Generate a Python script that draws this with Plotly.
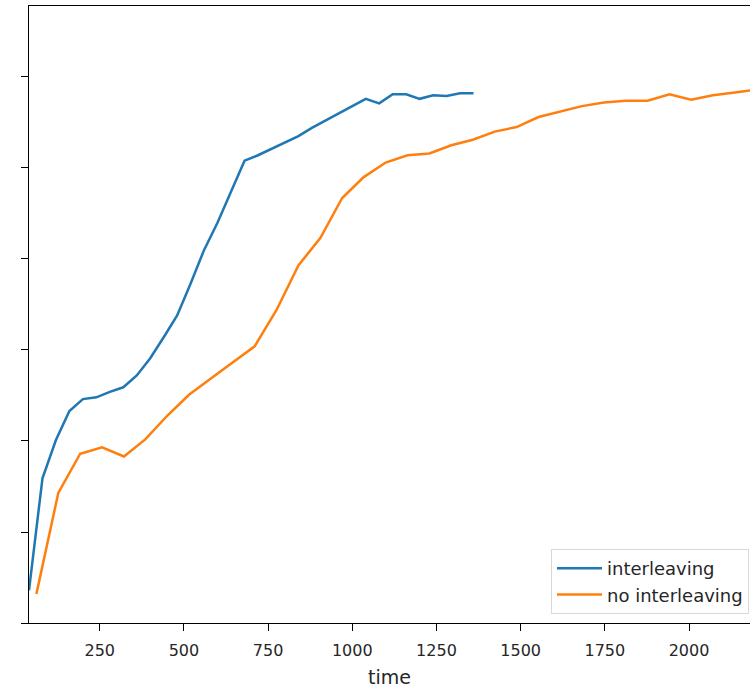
import plotly.graph_objects as go

# interleaving series
t_inter = [40, 80, 120, 160, 200, 240, 280, 320, 360, 400, 440, 480, 520, 560, 600,
           640, 680, 720, 760, 800, 840, 880, 920, 960, 1000, 1040, 1080, 1120, 1160,
           1200, 1240, 1280, 1320, 1360]
v_inter = [0.36, 1.59, 2.01, 2.33, 2.46, 2.48, 2.54, 2.59, 2.72, 2.91, 3.14, 3.38, 3.73,
           4.10, 4.40, 4.75, 5.08, 5.14, 5.21, 5.28, 5.35, 5.44, 5.52, 5.60, 5.68, 5.76,
           5.71, 5.81, 5.81, 5.76, 5.80, 5.79, 5.82, 5.82]

# no interleaving series
t_nointer = [62, 127, 192, 257, 322, 386, 451, 516, 581, 646, 710, 775, 840, 905, 970,
             1034, 1099, 1164, 1229, 1294, 1358, 1423, 1488, 1553, 1618, 1682, 1747,
             1812, 1877, 1942, 2006, 2071, 2136, 2201]
v_nointer = [0.32, 1.43, 1.86, 1.93, 1.83, 2.02, 2.28, 2.51, 2.69, 2.87, 3.04, 3.44, 3.93,
             4.23, 4.67, 4.90, 5.06, 5.14, 5.16, 5.25, 5.31, 5.40, 5.45, 5.56, 5.62, 5.68,
             5.72, 5.74, 5.74, 5.81, 5.75, 5.80, 5.83, 5.86]

x_ticks = [250, 500, 750, 1000, 1250, 1500, 1750, 2000]
y_ticks = [0, 1, 2, 3, 4, 5, 6]

fig = go.Figure()
fig.add_trace(go.Scatter(x=t_inter, y=v_inter, mode="lines", name="interleaving",
                         line=dict(color="#1f77b4", width=2.5)))
fig.add_trace(go.Scatter(x=t_nointer, y=v_nointer, mode="lines", name="no interleaving",
                         line=dict(color="#ff7f0e", width=2.5)))

fig.update_layout(
    width=750, height=688,
    margin=dict(l=29, r=0, t=6, b=65),
    paper_bgcolor="white", plot_bgcolor="white",
    font=dict(family="DejaVu Sans", size=16, color="#262626"),
    showlegend=True,
    legend=dict(x=0.9986, y=0.0146, xanchor="right", yanchor="bottom",
                bgcolor="rgba(255,255,255,0.8)", bordercolor="#d9d9d9", borderwidth=1,
                font=dict(size=18), tracegroupgap=0, itemwidth=45),
    xaxis=dict(range=[40, 2181], tickvals=x_ticks, showgrid=False, zeroline=False,
               showline=True, linecolor="black", linewidth=1.2, mirror=True,
               ticks="outside", ticklen=7, tickcolor="black", tickwidth=1.2,
               ticklabelstandoff=6,
               title=dict(text="time", standoff=12)),
    yaxis=dict(range=[0, 6.78], tickvals=y_ticks, showticklabels=False, showgrid=False,
               zeroline=False, showline=True, linecolor="black", linewidth=1.2,
               ticks="outside", ticklen=7, tickcolor="black", tickwidth=1.2),
)

fig.write_html("out.html", config={"displayModeBar": False},
               post_script="document.body.style.margin='0';")
